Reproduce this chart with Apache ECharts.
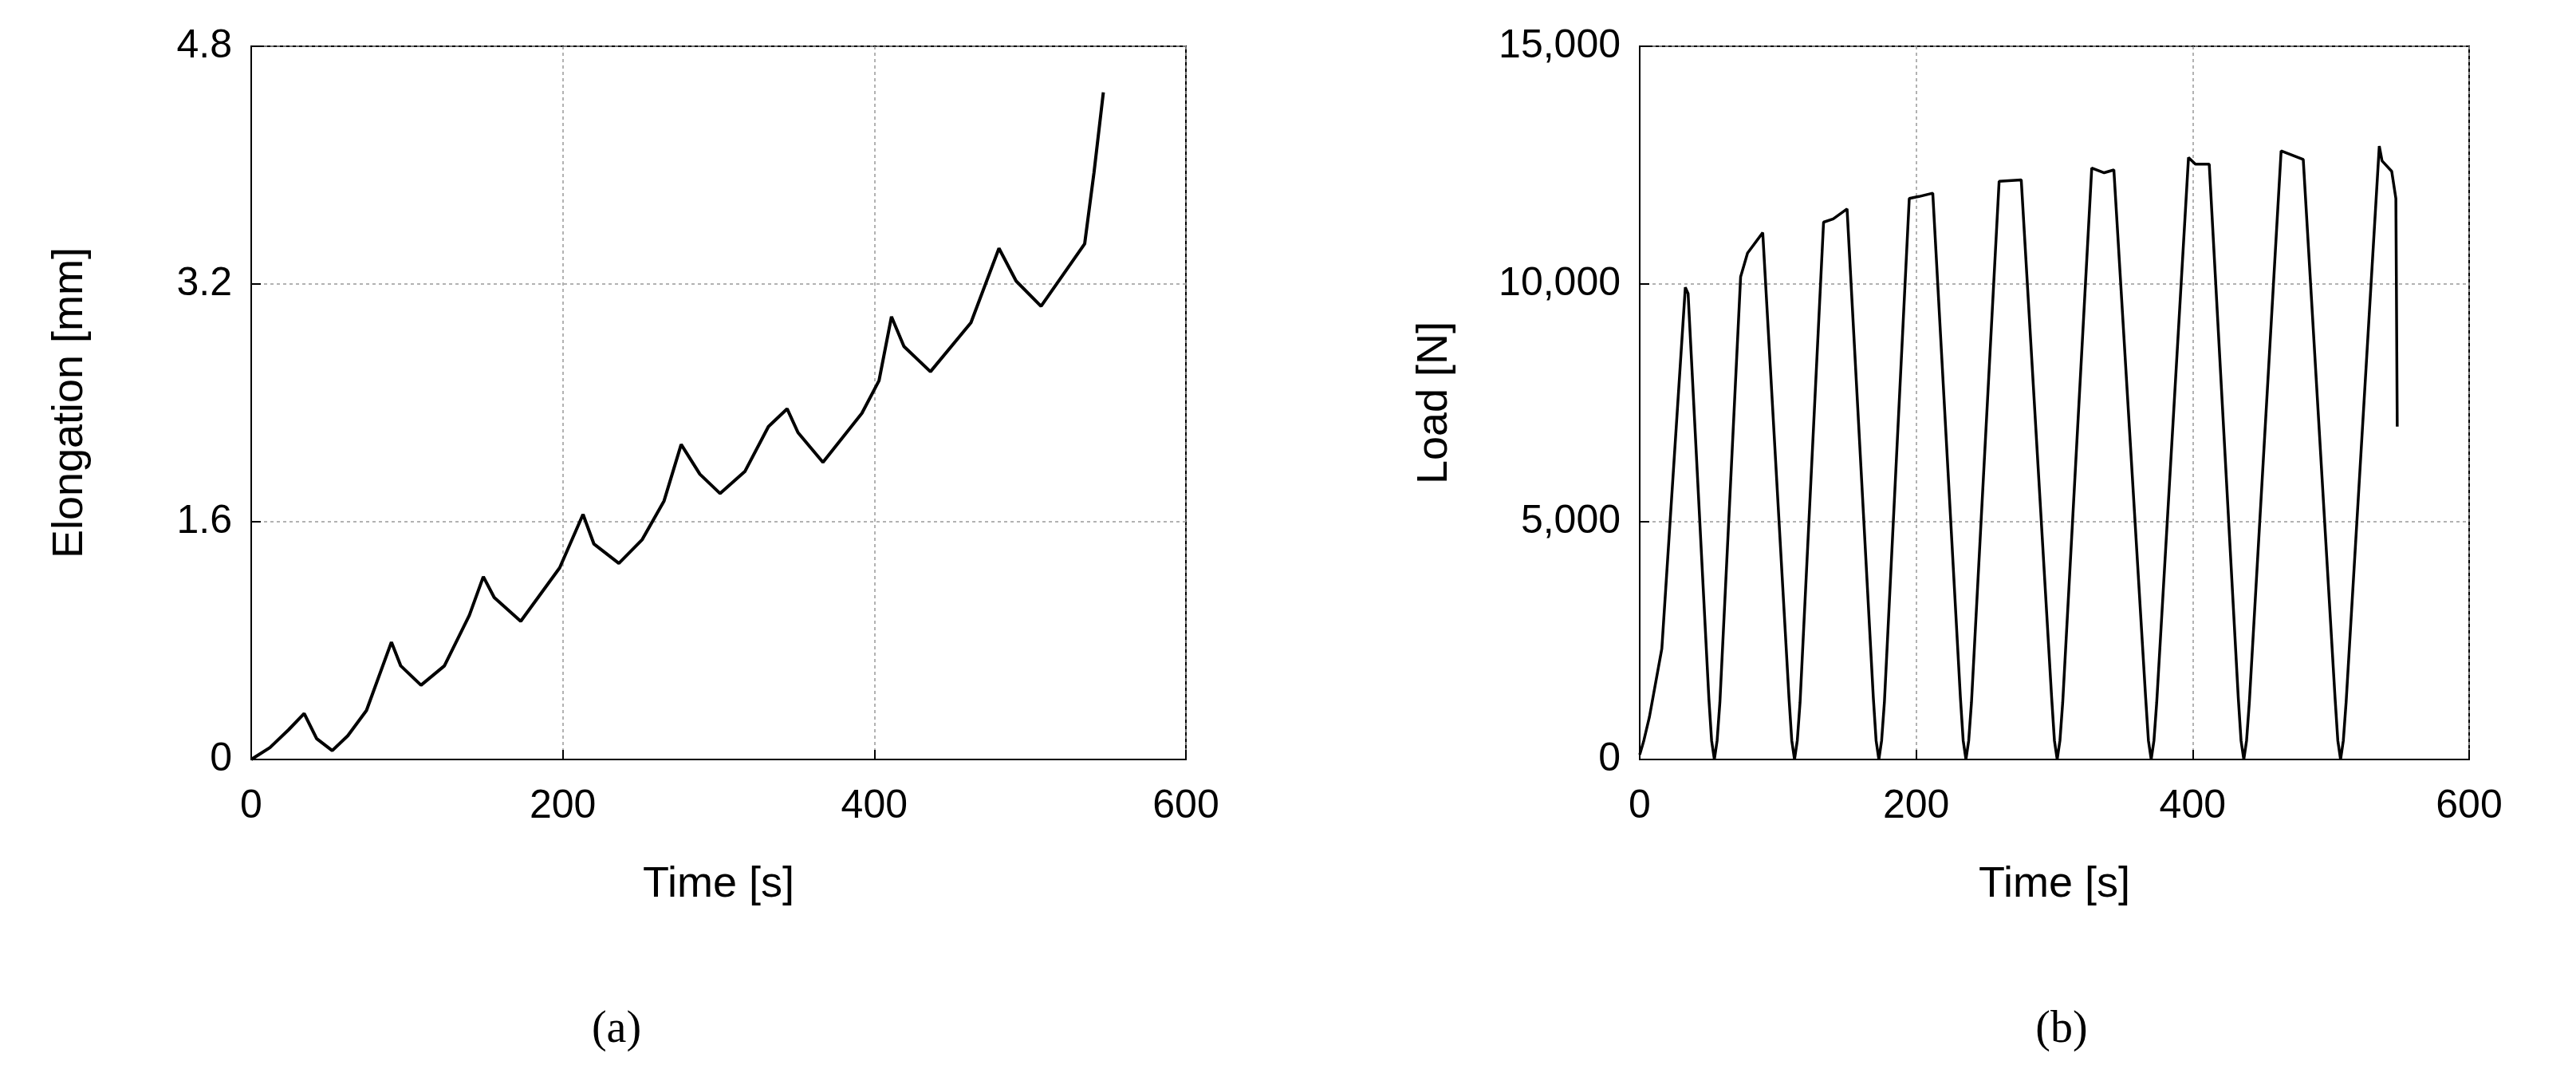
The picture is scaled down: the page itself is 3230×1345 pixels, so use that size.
<!DOCTYPE html>
<html>
<head>
<meta charset="utf-8">
<script src="https://cdn.jsdelivr.net/npm/echarts@6/dist/echarts.min.js"></script>
<style>
  html, body { margin: 0; padding: 0; background: #fff; }
  #chart { width: 3230px; height: 1345px; }
</style>
</head>
<body>
<div id="chart"></div>
<script>
// (a) elongation vs time
var elongTime = [0, 12, 24, 34, 42, 52, 62, 74, 90, 96, 109, 124, 140, 149, 156, 173, 198, 213, 220, 236, 251, 265, 276, 288, 301, 317, 332, 344, 351, 367, 392, 403, 411, 419, 436, 462, 480, 491, 507, 535, 541, 547];
var elongVal  = [0, 0.08, 0.2, 0.31, 0.14, 0.06, 0.16, 0.33, 0.79, 0.63, 0.5, 0.63, 0.97, 1.23, 1.09, 0.93, 1.29, 1.65, 1.45, 1.32, 1.48, 1.74, 2.12, 1.92, 1.79, 1.94, 2.24, 2.36, 2.2, 2.0, 2.33, 2.55, 2.98, 2.78, 2.61, 2.94, 3.44, 3.22, 3.05, 3.47, 3.95, 4.49];

// (b) load vs time
var loadTime = [0, 3, 7, 16, 33, 35, 50, 52, 54, 56, 58, 73, 78, 89, 108, 110, 112, 114, 116, 133, 140, 150, 169, 171, 173, 175, 177, 195, 202, 212, 232, 234, 236, 238, 240, 260, 276, 298, 300, 302, 304, 306, 327, 336, 343, 366, 368, 370, 372, 374, 397, 402, 412, 433, 435, 437, 439, 441, 464, 480, 503, 505, 507, 509, 511, 535, 537, 544, 547, 548];
var loadVal  = [100, 400, 890, 2330, 9930, 9800, 1300, 400, 0, 400, 1200, 10150, 10650, 11080, 1300, 400, 0, 400, 1200, 11300, 11370, 11580, 1300, 400, 0, 400, 1200, 11800, 11840, 11910, 1300, 400, 0, 400, 1200, 12160, 12190, 1300, 400, 0, 400, 1200, 12440, 12340, 12400, 1300, 400, 0, 400, 1200, 12660, 12520, 12520, 1300, 400, 0, 400, 1200, 12800, 12620, 1300, 400, 0, 400, 1200, 12900, 12590, 12370, 11800, 7000];

var xTicks = [0, 200, 400, 600];

function pairs(xs, ys) {
  return xs.map(function (x, i) { return [x, ys[i]]; });
}

var font = 'Liberation Sans';
function xAxis(idx) {
  return {
    type: 'value', gridIndex: idx, min: 0, max: 600, interval: 200,
    name: 'Time [s]', nameLocation: 'middle', nameGap: 130,
    nameTextStyle: { fontSize: 54, fontFamily: font, color: '#000' },
    axisLabel: { fontSize: 50, fontFamily: font, color: '#000', margin: 34 },
    axisLine: { lineStyle: { color: '#000', width: 2 } },
    axisTick: { inside: true, length: 12, lineStyle: { color: '#000', width: 2 } },
    splitLine: { lineStyle: { color: '#999', type: [4, 4], width: 1.5 } }
  };
}
function yAxis(idx, name, max, interval, gap) {
  return {
    type: 'value', gridIndex: idx, min: 0, max: max, interval: interval,
    name: name, nameLocation: 'middle', nameGap: gap,
    nameTextStyle: { fontSize: 54, fontFamily: font, color: '#000' },
    axisLabel: { fontSize: 50, fontFamily: font, color: '#000', margin: 24 },
    axisLine: { lineStyle: { color: '#000', width: 2 } },
    axisTick: { inside: true, length: 12, lineStyle: { color: '#000', width: 2 } },
    splitLine: { lineStyle: { color: '#999', type: [4, 4], width: 1.5 } }
  };
}

var chart = echarts.init(document.getElementById('chart'));
chart.setOption({
  animation: false,
  backgroundColor: '#fff',
  title: [
    { text: '(a)', left: 768, top: 1258, textAlign: 'center',
      textStyle: { fontSize: 56, fontFamily: 'Liberation Serif', fontWeight: 'normal', color: '#000' } },
    { text: '(b)', left: 2580, top: 1258, textAlign: 'center',
      textStyle: { fontSize: 56, fontFamily: 'Liberation Serif', fontWeight: 'normal', color: '#000' } }
  ],
  grid: [
    { left: 315, top: 58, width: 1172, height: 894, show: true, borderColor: '#000', borderWidth: 2 },
    { left: 2056, top: 58, width: 1040, height: 894, show: true, borderColor: '#000', borderWidth: 2 }
  ],
  xAxis: [xAxis(0), xAxis(1)],
  yAxis: [
    yAxis(0, 'Elongation [mm]', 4.8, 1.6, 200),
    yAxis(1, 'Load [N]', 15000, 5000, 230)
  ],
  series: [
    { type: 'line', xAxisIndex: 0, yAxisIndex: 0, data: pairs(elongTime, elongVal),
      showSymbol: false, lineStyle: { color: '#000', width: 4 } },
    { type: 'line', xAxisIndex: 1, yAxisIndex: 1, data: pairs(loadTime, loadVal),
      showSymbol: false, lineStyle: { color: '#000', width: 3.5 } }
  ]
});
</script>
</body>
</html>
